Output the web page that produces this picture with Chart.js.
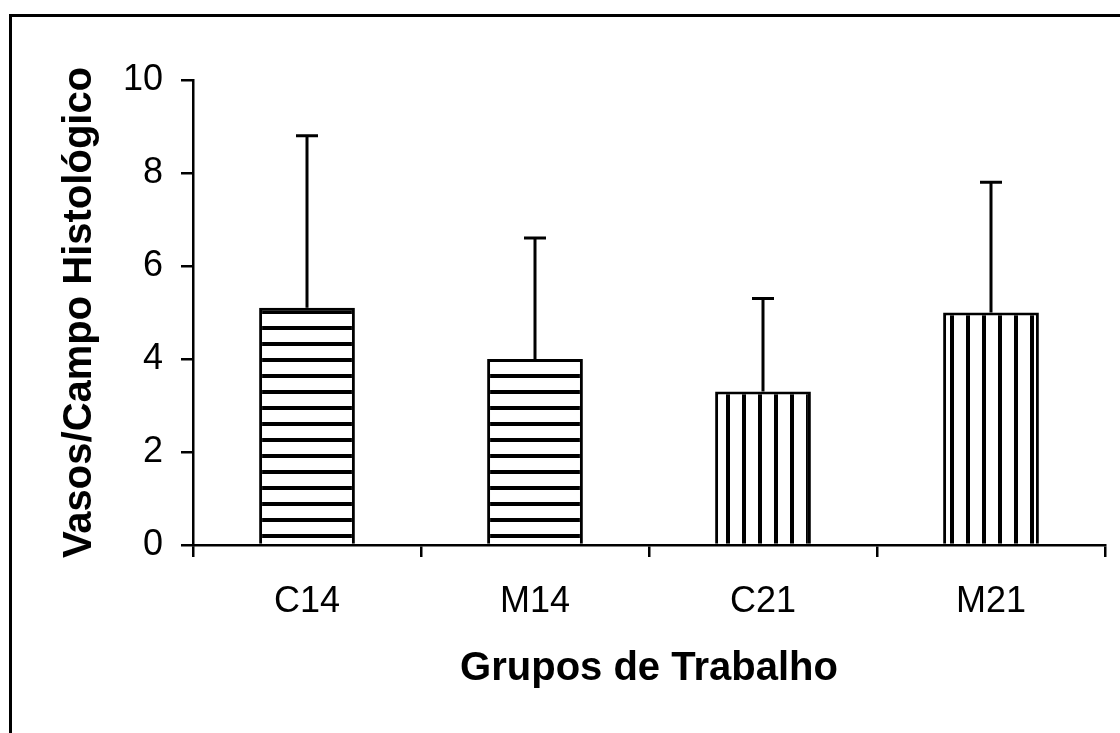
<!DOCTYPE html>
<html>
<head>
<meta charset="utf-8">
<script src="https://cdn.jsdelivr.net/npm/chart.js@4/dist/chart.umd.min.js"></script>
<style>
  html, body { margin: 0; padding: 0; background: #fff; overflow: hidden; }
  #wrap { position: relative; width: 1120px; height: 733px; overflow: hidden; }
  #frame { position: absolute; left: 9px; top: 14px; width: 1300px; height: 900px; border: 3px solid #000; box-sizing: border-box; }
  canvas { position: absolute; left: 0; top: 0; }
</style>
</head>
<body>
<div id="wrap">
  <div id="frame"></div>
  <canvas id="chart" width="1120" height="733"></canvas>
</div>
<script>
// values
const groups = ['C14', 'M14', 'C21', 'M21']
const vessels = [5.1, 4.0, 3.3, 5.0]
const vesselsSd = [3.7, 2.6, 2.0, 2.8]
const yTicks = [0, 2, 4, 6, 8, 10]

const FONT = "'Liberation Sans', Arial, sans-serif"

function stripes(horizontal) {
    const c = document.createElement('canvas')
    c.width = 16
    c.height = 16
    const g = c.getContext('2d')
    g.fillStyle = '#fff'
    g.fillRect(0, 0, 16, 16)
    g.fillStyle = '#000'
    if (horizontal) g.fillRect(0, 6, 16, 4)
    else g.fillRect(6, 0, 4, 16)
    return g.createPattern(c, 'repeat')
}

const hPattern = stripes(true)
const vPattern = stripes(false)

// upward error bars with a cap
const errorBars = {
    id: 'errorBars',
    afterDatasetsDraw: function (chart) {
        const ctx = chart.ctx
        const y = chart.scales.y
        const meta = chart.getDatasetMeta(0)
        ctx.save()
        ctx.strokeStyle = '#000'
        ctx.lineWidth = 3
        meta.data.forEach(function (bar, i) {
            const top = y.getPixelForValue(vessels[i] + vesselsSd[i])
            const base = y.getPixelForValue(vessels[i])
            ctx.beginPath()
            ctx.moveTo(bar.x, base)
            ctx.lineTo(bar.x, top)
            ctx.moveTo(bar.x - 11, top)
            ctx.lineTo(bar.x + 11, top)
            ctx.stroke()
        })
        ctx.restore()
    }
}

new Chart(document.getElementById('chart'), {
    type: 'bar',
    data: {
        labels: groups,
        datasets: [{
            data: vessels,
            backgroundColor: [hPattern, hPattern, vPattern, vPattern],
            borderColor: '#000',
            borderWidth: 3,
            barPercentage: 0.42,
            categoryPercentage: 1
        }]
    },
    options: {
        responsive: false,
        animation: false,
        layout: { padding: { left: 38, top: 80, right: 15, bottom: 20 } },
        plugins: { legend: { display: false }, tooltip: { enabled: false } },
        scales: {
            x: {
                afterFit: function (scale) { scale.height = 733 - 20 - 545 },
                border: { color: '#000', width: 2.5 },
                grid: { drawOnChartArea: false, color: '#000', lineWidth: 2.5, tickLength: 12 },
                ticks: { color: '#000', padding: 23, font: { family: FONT, size: 36 } },
                title: {
                    display: true,
                    text: 'Grupos de Trabalho',
                    color: '#000',
                    padding: { top: 0, bottom: 20 },
                    font: { family: FONT, size: 40, weight: 'bold' }
                }
            },
            y: {
                min: 0,
                max: 10,
                afterFit: function (scale) { scale.width = 193 - 38 },
                afterBuildTicks: function (scale) {
                    scale.ticks = yTicks.map(function (v) { return { value: v } })
                },
                border: { color: '#000', width: 2.5 },
                grid: { drawOnChartArea: false, color: '#000', lineWidth: 2.5, tickLength: 12 },
                ticks: { color: '#000', padding: 18, font: { family: FONT, size: 36 } },
                title: {
                    display: true,
                    text: 'Vasos/Campo Histológico',
                    color: '#000',
                    padding: { top: 18, bottom: 0 },
                    font: { family: FONT, size: 40, weight: 'bold' }
                }
            }
        }
    },
    plugins: [errorBars]
})
</script>
</body>
</html>
